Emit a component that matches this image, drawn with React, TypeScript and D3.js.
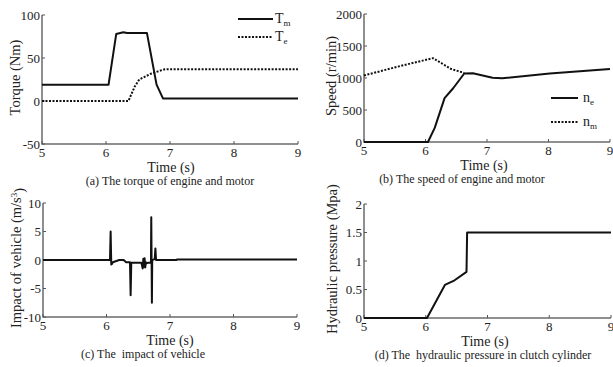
import { useEffect, useRef } from 'react';
import * as d3 from 'd3';

// time axis shared by all four panels
const timeTicks = [5, 6, 7, 8, 9];

// (a) torque of engine and motor
const tmTime = [5, 6.04, 6.16, 6.27, 6.33, 6.64, 6.79, 6.89, 9];
const tmValue = [19, 19, 78, 80, 79, 79, 19, 3, 3];
const teTime = [5, 6.35, 6.45, 6.52, 6.71, 6.92, 9];
const teValue = [0, 0, 17, 25, 32, 37, 37];
const torqueTicks = [-50, 0, 50, 100];

// (b) speed of engine and motor
const neTime = [5, 6.04, 6.15, 6.31, 6.45, 6.63, 6.77, 7.09, 7.25, 8.02, 9];
const neValue = [0, 0, 220, 685, 840, 1070, 1075, 1005, 995, 1070, 1140];
const nmTime = [5, 5.6, 6.12, 6.42, 6.63];
const nmValue = [1040, 1190, 1310, 1140, 1080];
const speedTicks = [0, 500, 1000, 1500, 2000];

// (c) impact of vehicle
const impactTime = [5, 6.055, 6.065, 6.075, 6.085, 6.1, 6.2, 6.27, 6.31, 6.37, 6.38, 6.39, 6.45, 6.55, 6.57, 6.58, 6.59, 6.6, 6.61, 6.62, 6.63, 6.65, 6.68, 6.7, 6.705, 6.715, 6.72, 6.73, 6.76, 6.77, 6.78, 6.8, 7.1, 7.11, 9];
const impactValue = [0, 0, 5, -0.8, -0.7, -0.4, 0, 0, -0.4, -0.4, -6.2, -0.5, -0.5, -0.5, -1.5, 0.2, -1.2, 0.3, -1.3, -0.4, -0.6, -0.5, -0.5, -0.5, 7.5, -7.5, 0, 0, 0.2, 2, 0, 0, 0, 0.1, 0.1];
const impactTicks = [-10, -5, 0, 5, 10];

// (d) hydraulic pressure in clutch cylinder
const pressureTime = [5, 6.02, 6.31, 6.45, 6.66, 6.67, 9];
const pressureValue = [0, 0, 0.58, 0.65, 0.81, 1.5, 1.5];
const pressureTicks = [0, 0.5, 1, 1.5, 2];

const FONT = '"Liberation Serif", "Times New Roman", serif';

type Series = { t: number[]; v: number[]; dashed?: boolean };

interface PanelSpec {
  x0: number;
  x1: number;
  yTop: number;
  yBottom: number;
  yDomain: [number, number];
  yTicks: number[];
  yLabel: string;
  yLabelSup?: string;
  yLabelX: number;
  xLabelX: number;
  caption: string;
  captionX: number;
  series: Series[];
}

const panels: PanelSpec[] = [
  {
    x0: 42, x1: 298, yTop: 15, yBottom: 144, yDomain: [-50, 100], yTicks: torqueTicks,
    yLabel: 'Torque (Nm)', yLabelX: 15, xLabelX: 171,
    caption: '(a) The torque of engine and motor', captionX: 170,
    series: [{ t: tmTime, v: tmValue }, { t: teTime, v: teValue, dashed: true }],
  },
  {
    x0: 364, x1: 610, yTop: 14, yBottom: 142, yDomain: [0, 2000], yTicks: speedTicks,
    yLabel: 'Speed (r/min)', yLabelX: 331, xLabelX: 484,
    caption: '(b) The speed of engine and motor', captionX: 462,
    series: [{ t: nmTime, v: nmValue, dashed: true }, { t: neTime, v: neValue }],
  },
  {
    x0: 43, x1: 297, yTop: 203, yBottom: 317, yDomain: [-10, 10], yTicks: impactTicks,
    yLabel: 'Impact of vehicle (m/s', yLabelSup: '3', yLabelX: 16, xLabelX: 170,
    caption: '(c) The  impact of vehicle', captionX: 143,
    series: [{ t: impactTime, v: impactValue }],
  },
  {
    x0: 364, x1: 611, yTop: 204, yBottom: 318, yDomain: [0, 2], yTicks: pressureTicks,
    yLabel: 'Hydraulic pressure (Mpa)', yLabelX: 332, xLabelX: 485,
    caption: '(d) The  hydraulic pressure in clutch cylinder', captionX: 483,
    series: [{ t: pressureTime, v: pressureValue }],
  },
];

const App = () => {
  const svgRef = useRef<SVGSVGElement>(null);

  useEffect(() => {
    document.body.style.margin = '0';
    const svg = d3.select(svgRef.current);
    svg.selectAll('*').remove();

    svg.append('rect').attr('width', 613).attr('height', 367).attr('fill', '#fff');

    panels.forEach((p) => {
      const x = d3.scaleLinear().domain([5, 9]).range([p.x0, p.x1]);
      const y = d3.scaleLinear().domain(p.yDomain).range([p.yBottom, p.yTop]);
      const g = svg.append('g').style('font-family', FONT);

      // axis lines, no box
      g.append('path')
        .attr('d', `M${p.x0},${p.yTop}V${p.yBottom}H${p.x1}`)
        .attr('fill', 'none')
        .attr('stroke', '#6b6b6b')
        .attr('stroke-width', 1.5);

      // x ticks point inward
      timeTicks.forEach((t) => {
        g.append('line')
          .attr('x1', x(t)).attr('x2', x(t))
          .attr('y1', p.yBottom).attr('y2', p.yBottom - 3)
          .attr('stroke', '#555');
        g.append('text')
          .attr('x', x(t))
          .attr('y', p.yBottom + 13)
          .attr('text-anchor', 'middle')
          .attr('font-size', 13)
          .attr('fill', '#222')
          .text(t);
      });

      p.yTicks.forEach((v) => {
        g.append('line')
          .attr('x1', p.x0).attr('x2', p.x0 + 3)
          .attr('y1', y(v)).attr('y2', y(v))
          .attr('stroke', '#555');
        g.append('text')
          .attr('x', p.x0 - 2)
          .attr('y', y(v))
          .attr('dy', '0.35em')
          .attr('text-anchor', 'end')
          .attr('font-size', 13)
          .attr('fill', '#222')
          .text(v);
      });

      p.series.forEach((s) => {
        const pts = s.t.map((t, i) => [x(t), y(s.v[i])] as [number, number]);
        g.append('path')
          .attr('d', d3.line()(pts))
          .attr('fill', 'none')
          .attr('stroke', '#111')
          .attr('stroke-width', 2)
          .attr('stroke-linejoin', 'round')
          .attr('stroke-dasharray', s.dashed ? '2,1.5' : null);
      });

      // y label
      const yl = g.append('text')
        .attr('transform', `translate(${p.yLabelX},${(p.yTop + p.yBottom) / 2 - 2}) rotate(-90)`)
        .attr('text-anchor', 'middle')
        .attr('dy', '0.35em')
        .attr('font-size', 14.5)
        .attr('fill', '#222')
        .text(p.yLabel);
      if (p.yLabelSup) {
        yl.append('tspan').attr('font-size', 9).attr('dy', '-0.5em').text(p.yLabelSup);
        yl.append('tspan').attr('dy', '0.5em').text(')');
      }

      // x label
      g.append('text')
        .attr('x', p.xLabelX)
        .attr('y', p.yBottom + 28)
        .attr('text-anchor', 'middle')
        .attr('font-size', 14)
        .attr('fill', '#222')
        .text('Time (s)');

      // caption
      g.append('text')
        .attr('x', p.captionX)
        .attr('y', p.yBottom + 41)
        .attr('text-anchor', 'middle')
        .attr('font-size', 12)
        .attr('fill', '#222')
        .style('white-space', 'pre')
        .text(p.caption);
    });

    // legend (a)
    const legA = [
      { label: 'T', sub: 'm', y: 19, dashed: false },
      { label: 'T', sub: 'e', y: 37, dashed: true },
    ];
    legA.forEach((l) => {
      svg.append('line')
        .attr('x1', 238).attr('x2', 273).attr('y1', l.y).attr('y2', l.y)
        .attr('stroke', '#111').attr('stroke-width', 2)
        .attr('stroke-dasharray', l.dashed ? '2,1.5' : null);
      const t = svg.append('text')
        .attr('x', 275).attr('y', l.y).attr('dy', '0.3em')
        .style('font-family', FONT).attr('font-size', 14).attr('fill', '#222')
        .text(l.label);
      t.append('tspan').attr('font-size', 9).attr('dy', '0.3em').text(l.sub);
    });

    // legend (b)
    const legB = [
      { label: 'n', sub: 'e', y: 98, dashed: false },
      { label: 'n', sub: 'm', y: 122, dashed: true },
    ];
    legB.forEach((l) => {
      svg.append('line')
        .attr('x1', 551).attr('x2', 578).attr('y1', l.y).attr('y2', l.y)
        .attr('stroke', '#111').attr('stroke-width', 2)
        .attr('stroke-dasharray', l.dashed ? '2,1.5' : null);
      const t = svg.append('text')
        .attr('x', 583).attr('y', l.y).attr('dy', '0.3em')
        .style('font-family', FONT).attr('font-size', 14).attr('fill', '#222')
        .text(l.label);
      t.append('tspan').attr('font-size', 9).attr('dy', '0.3em').text(l.sub);
    });
  }, []);

  return (
    <svg
      ref={svgRef}
      width={613}
      height={367}
      style={{ position: 'absolute', left: 0, top: 0, display: 'block' }}
    />
  );
};

export default App;
